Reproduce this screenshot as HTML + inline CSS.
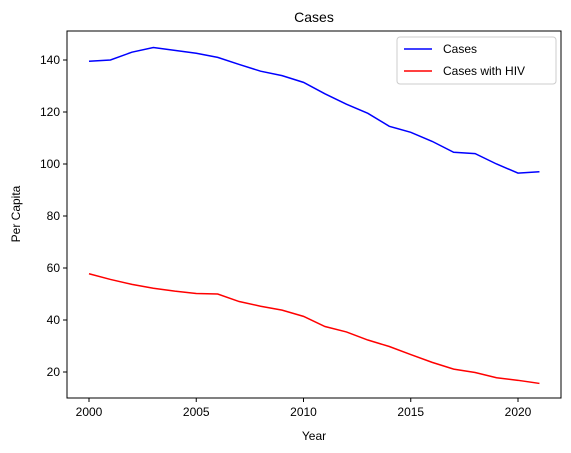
<!DOCTYPE html>
<html><head><meta charset="utf-8"><style>
html,body{margin:0;padding:0;background:#fff;}
svg{display:block;font-family:"Liberation Sans","DejaVu Sans",sans-serif;}
</style></head><body>
<svg id="chart" width="571" height="453" viewBox="0 0 571 453">
<text x="314" y="22" font-size="14" text-anchor="middle">Cases</text>
<rect x="67" y="31" width="494" height="367" fill="none" stroke="#000" stroke-width="1"/>
<g id="xticks"></g>
<g id="yticks"></g>
<text x="314" y="440" font-size="12" text-anchor="middle">Year</text>
<text x="20" y="214" font-size="12" text-anchor="middle" transform="rotate(-90 20 214)">Per Capita</text>
<g id="series"></g>
<g>
<rect x="397" y="37" width="159" height="47" rx="3" fill="#fff" stroke="#ccc"/>
<line x1="404" y1="49" x2="432" y2="49" stroke="blue" stroke-width="1.5"/>
<text x="443" y="53" font-size="12">Cases</text>
<line x1="404" y1="71" x2="432" y2="71" stroke="red" stroke-width="1.5"/>
<text x="443" y="75" font-size="12">Cases with HIV</text>
</g>
</svg>
<script>
const years=[2000,2001,2002,2003,2004,2005,2006,2007,2008,2009,2010,2011,2012,2013,2014,2015,2016,2017,2018,2019,2020,2021];
const cases=[139.5,140,143,144.8,143.7,142.6,141,138.3,135.7,134,131.4,127,123,119.5,114.5,112.2,108.7,104.5,104,100,96.5,97];
const casesHiv=[57.8,55.6,53.7,52.2,51.1,50.2,50,47.1,45.3,43.8,41.4,37.5,35.4,32.3,29.8,26.7,23.7,21.1,19.8,17.8,16.8,15.6];
const xTickLabels=[2000,2005,2010,2015,2020];
const yTickLabels=[20,40,60,80,100,120,140];
const NS="http://www.w3.org/2000/svg";
const xs=v=>89+(v-2000)*(518-89)/20;
const ys=v=>372-(v-20)*2.6;
const xg=document.getElementById('xticks'),yg=document.getElementById('yticks'),sg=document.getElementById('series');
function mk(tag,attrs,parent){const e=document.createElementNS(NS,tag);for(const k in attrs)e.setAttribute(k,attrs[k]);parent.appendChild(e);return e;}
xTickLabels.forEach(t=>{
 const l=mk('line',{x1:xs(t),x2:xs(t),y1:398,y2:402,stroke:'#000'},xg);
 
 
 const tx=mk('text',{x:xs(t),y:416,'font-size':12,'text-anchor':'middle'},xg);tx.textContent=t;
 
 
});
yTickLabels.forEach(t=>{
 const l=mk('line',{x1:63,x2:67,y1:ys(t),y2:ys(t),stroke:'#000'},yg);
 
 
 const tx=mk('text',{x:60,y:ys(t)+4,'font-size':12,'text-anchor':'end'},yg);tx.textContent=t;
 
 
});
function line(vals,color,name){
 const p=mk('polyline',{points:vals.map((v,i)=>xs(years[i])+','+ys(v)).join(' '),fill:'none',stroke:color,'stroke-width':1.5},sg);
 
 
}
line(cases,'blue','cases-line');
line(casesHiv,'red','cases-with-hiv-line');
</script>
</body></html>
